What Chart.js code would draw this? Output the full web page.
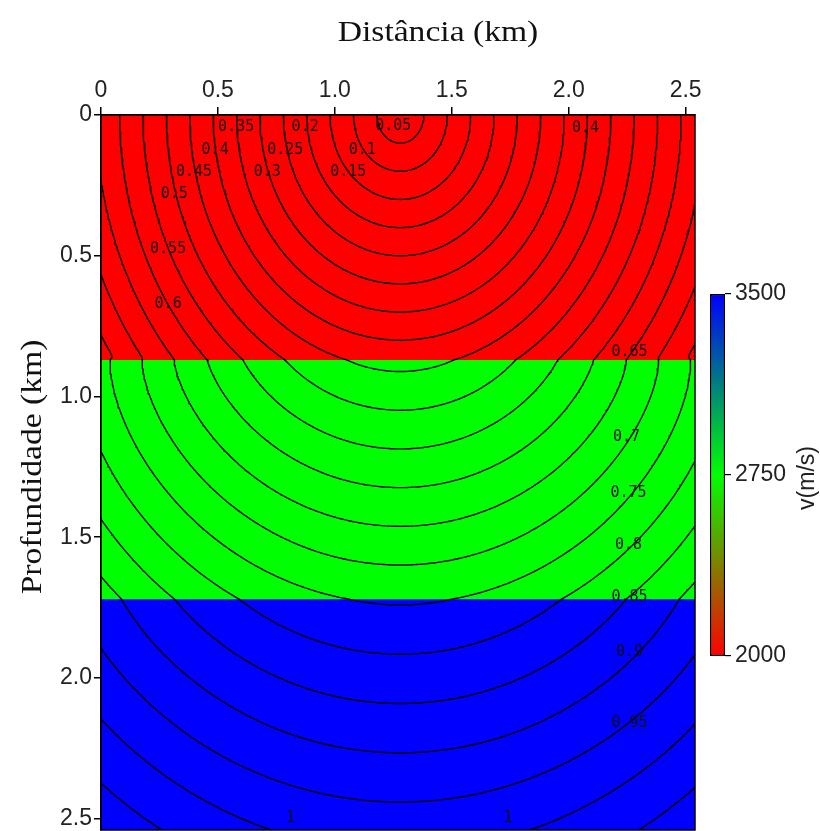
<!DOCTYPE html>
<html lang="pt">
<head>
<meta charset="utf-8">
<title>Tempos de trânsito - modelo em camadas</title>
<script src="https://cdn.jsdelivr.net/npm/chart.js@4.4.1/dist/chart.umd.min.js"></script>
<style>
  html, body { margin: 0; padding: 0; background: #fff; overflow: hidden; }
  #wrap { position: relative; width: 820px; height: 831px; }
  #mainChart { position: absolute; left: 0; top: 0; }
  #barChart { position: absolute; left: 700px; top: 270px; }
</style>
</head>
<body>
<div id="wrap">
  <canvas id="mainChart" width="820" height="831"></canvas>
  <canvas id="barChart" width="120" height="410"></canvas>
</div>
<script>
// Velocity model (km, m/s)
const layerTops = [0, 0.87, 1.72];
const layerVelocities = [2000, 2750, 3500];
const modelWidth = 2.54;
const modelDepth = 2.54;

// Point source on the surface (km)
const sourceX = 1.28;

// Traveltime contour levels (s)
const contourLevels = [
  0.05, 0.1, 0.15, 0.2, 0.25, 0.3, 0.35, 0.4, 0.45, 0.5, 0.55,
  0.6, 0.65, 0.7, 0.75, 0.8, 0.85, 0.9, 0.95, 1.0, 1.05, 1.1,
];

// Axis ticks
const xTicks = [0, 0.5, 1.0, 1.5, 2.0, 2.5];
const zTicks = [0, 0.5, 1.0, 1.5, 2.0, 2.5];
const velocityTicks = [2000, 2750, 3500];

// Contour label texts and where they sit (km)
const labelSpots = [
  ["0.05", 1.25, 0.04],
  ["0.1", 1.117, 0.124],
  ["0.15", 1.057, 0.203],
  ["0.2", 0.873, 0.043],
  ["0.25", 0.788, 0.124],
  ["0.3", 0.711, 0.203],
  ["0.35", 0.578, 0.043],
  ["0.4", 0.488, 0.124],
  ["0.45", 0.398, 0.204],
  ["0.5", 0.313, 0.281],
  ["0.55", 0.287, 0.476],
  ["0.6", 0.287, 0.672],
  ["0.4", 2.072, 0.046],
  ["0.65", 2.26, 0.842],
  ["0.7", 2.247, 1.144],
  ["0.75", 2.256, 1.343],
  ["0.8", 2.256, 1.528],
  ["0.85", 2.26, 1.713],
  ["0.9", 2.26, 1.908],
  ["0.95", 2.26, 2.161],
  ["1", 0.809, 2.498],
  ["1", 1.74, 2.498],
];

Chart.defaults.font.family = "'Liberation Sans', Arial, sans-serif";
Chart.defaults.color = "#222";

/**
 * Colour map red -> green -> blue over the velocity range
 */
function velocityColor(v) {
  const lo = velocityTicks[0];
  const hi = velocityTicks[velocityTicks.length - 1];
  const t = Math.min(1, Math.max(0, (v - lo) / (hi - lo)));
  if (t <= 0.5) {
    const s = t / 0.5;
    return `rgb(${Math.round(255 * (1 - s))}, ${Math.round(255 * s)}, 0)`;
  }
  const s = (t - 0.5) / 0.5;
  return `rgb(0, ${Math.round(255 * (1 - s))}, ${Math.round(255 * s)})`;
}

function layerBottom(i) {
  return i + 1 < layerTops.length ? layerTops[i + 1] : modelDepth;
}

function legSum(legs, p, v) {
  let X = 0;
  let T = 0;
  for (const [th, i] of legs) {
    const s = p * v[i];
    const c = Math.sqrt(1 - s * s);
    X += (th * s) / c;
    T += th / (v[i] * c);
  }
  return [X, T];
}

/**
 * First-arrival time from the source to (x, z): transmitted ray or head wave
 */
function travelTime(x, z) {
  const v = layerVelocities.map((s) => s / 1000);
  const h = Math.abs(x - sourceX);
  if (z <= 0) return h / v[0];

  let k = 0;
  while (k + 1 < layerTops.length && z > layerTops[k + 1]) k++;

  const legs = [];
  for (let i = 0; i <= k; i++) {
    legs.push([(i < k ? layerBottom(i) : z) - layerTops[i], i]);
  }

  let best;
  if (h < 1e-9) {
    best = legSum(legs, 0, v)[1];
  } else {
    let lo = 0;
    let hi = 1;
    for (let n = 0; n < 60; n++) {
      const q = (lo + hi) / 2;
      if (legSum(legs, q / v[k], v)[0] < h) lo = q;
      else hi = q;
    }
    best = legSum(legs, (lo + hi) / 2 / v[k], v)[1];
  }

  // head waves along deeper interfaces
  for (let j = k; j + 1 < layerTops.length; j++) {
    const p = 1 / v[j + 1];
    const path = [];
    for (let i = 0; i <= j; i++) path.push([layerBottom(i) - layerTops[i], i]);
    for (let i = k; i <= j; i++) {
      path.push([i === k ? layerBottom(k) - z : layerBottom(i) - layerTops[i], i]);
    }
    const [X, T] = legSum(path, p, v);
    if (X <= h) best = Math.min(best, T + (h - X) * p);
  }
  return best;
}

// Traveltime grid
const step = 0.01;
const nx = Math.round(modelWidth / step) + 1;
const nz = Math.round(modelDepth / step) + 1;
const gx = Array.from({ length: nx }, (_, i) => (i * modelWidth) / (nx - 1));
const gz = Array.from({ length: nz }, (_, j) => (j * modelDepth) / (nz - 1));
const grid = gz.map((z) => gx.map((x) => travelTime(x, z)));

/**
 * Marching squares, segments joined into polylines
 */
function isolines(level) {
  const segs = [];
  const corner = (e, i, j) =>
    [[i, j], [i + 1, j], [i + 1, j + 1], [i, j + 1]][e];
  const edgeCorners = [[0, 1], [1, 2], [3, 2], [0, 3]];

  for (let j = 0; j < nz - 1; j++) {
    for (let i = 0; i < nx - 1; i++) {
      const c = [grid[j][i], grid[j][i + 1], grid[j + 1][i + 1], grid[j + 1][i]];
      const mn = Math.min(...c);
      const mx = Math.max(...c);
      if (level < mn || level >= mx) continue;
      const above = c.map((val) => val >= level);

      const edgePoint = (e) => {
        const [ca, cb] = edgeCorners[e];
        const [ia, ja] = corner(ca, i, j);
        const [ib, jb] = corner(cb, i, j);
        const a = c[ca];
        const b = c[cb];
        const t = (level - a) / (b - a);
        return {
          key: `${ia},${ja},${ib},${jb}`,
          pt: { x: gx[ia] + t * (gx[ib] - gx[ia]), y: gz[ja] + t * (gz[jb] - gz[ja]) },
        };
      };

      const hits = [];
      for (let e = 0; e < 4; e++) {
        if (above[edgeCorners[e][0]] !== above[edgeCorners[e][1]]) hits.push(e);
      }
      const pairs = [];
      if (hits.length === 2) pairs.push([hits[0], hits[1]]);
      else if (hits.length === 4) {
        const center = (c[0] + c[1] + c[2] + c[3]) / 4;
        if ((center >= level) === above[0]) pairs.push([0, 1], [2, 3]);
        else pairs.push([3, 0], [1, 2]);
      }
      pairs.forEach(([ea, eb]) => {
        const A = edgePoint(ea);
        const B = edgePoint(eb);
        segs.push({ ka: A.key, pa: A.pt, kb: B.key, pb: B.pt });
      });
    }
  }

  const adj = new Map();
  segs.forEach((s, idx) => {
    [s.ka, s.kb].forEach((k) => {
      if (!adj.has(k)) adj.set(k, []);
      adj.get(k).push(idx);
    });
  });

  const used = new Array(segs.length).fill(false);
  const lines = [];
  const walk = (key, out, atEnd) => {
    for (;;) {
      const next = (adj.get(key) || []).find((n) => !used[n]);
      if (next === undefined) return;
      used[next] = true;
      const s = segs[next];
      const [pt, k2] = s.ka === key ? [s.pb, s.kb] : [s.pa, s.ka];
      if (atEnd) out.push(pt);
      else out.unshift(pt);
      key = k2;
    }
  };
  segs.forEach((s, idx) => {
    if (used[idx]) return;
    used[idx] = true;
    const line = [s.pa, s.pb];
    walk(s.kb, line, true);
    walk(s.ka, line, false);
    lines.push(line);
  });
  return lines;
}

const contourDatasets = [];
contourLevels.forEach((level) => {
  isolines(level).forEach((line) => {
    contourDatasets.push({
      label: `${level} s`,
      data: line,
      borderColor: "#000",
      borderWidth: 1.4,
      pointRadius: 0,
      pointHitRadius: 0,
      fill: false,
      tension: 0,
      borderJoinStyle: "round",
      order: 0,
    });
  });
});

// Layers: each band filled from its top down, deeper layers on top
const layerDatasets = layerTops.map((top, i) => ({
  label: `${layerVelocities[i]} m/s`,
  data: [
    { x: 0, y: top },
    { x: modelWidth, y: top },
  ],
  borderWidth: 0,
  pointRadius: 0,
  backgroundColor: velocityColor(layerVelocities[i]),
  fill: { value: modelDepth },
  order: 10 + layerTops.length - i,
}));

const tickLabel = (v) => (v === 0 ? "0" : Number(v).toFixed(1));

const frameAndText = {
  id: "frameAndText",
  afterDraw(chart) {
    const { ctx, chartArea: a, scales } = chart;
    ctx.save();
    ctx.strokeStyle = "#000";
    ctx.lineWidth = 1.5;
    ctx.strokeRect(a.left, a.top, a.right - a.left, a.bottom - a.top);

    ctx.font = '15px "DejaVu Sans Mono"';
    ctx.fillStyle = "#111";
    ctx.textAlign = "center";
    ctx.textBaseline = "middle";
    labelSpots.forEach(([t, lx, lz]) => {
      ctx.fillText(t, scales.x.getPixelForValue(lx), scales.y.getPixelForValue(lz));
    });

    ctx.font = '30px "Liberation Serif"';
    ctx.fillStyle = "#111";
    ctx.save();
    ctx.translate(438, 33);
    ctx.scale(1.12, 1);
    ctx.fillText("Distância (km)", 0, 0);
    ctx.restore();
    ctx.save();
    ctx.translate(33, 467);
    ctx.rotate(-Math.PI / 2);
    ctx.scale(1.12, 1);
    ctx.fillText("Profundidade (km)", 0, 0);
    ctx.restore();
    ctx.restore();
  },
};

new Chart(document.getElementById("mainChart"), {
  type: "line",
  data: { datasets: [...contourDatasets, ...layerDatasets] },
  options: {
    responsive: false,
    animation: false,
    devicePixelRatio: 1,
    layout: { padding: { left: 0, top: 0, right: 125, bottom: 1 } },
    plugins: { legend: { display: false }, tooltip: { enabled: false } },
    events: [],
    scales: {
      x: {
        type: "linear",
        position: "top",
        min: 0,
        max: modelWidth,
        afterBuildTicks: (s) => { s.ticks = xTicks.map((v) => ({ value: v })); },
        afterFit: (s) => {
          s.height = 115;
          s.paddingLeft = 0;
          s.paddingRight = 0;
        },
        ticks: { callback: tickLabel, font: { size: 23 }, color: "#222", padding: 3, maxRotation: 0, autoSkip: false },
        grid: { drawOnChartArea: false, drawTicks: true, tickLength: 8, color: "#000", lineWidth: 1.5 },
        border: { display: true, color: "#000", width: 1.5 },
      },
      y: {
        type: "linear",
        reverse: true,
        min: 0,
        max: modelDepth,
        afterBuildTicks: (s) => { s.ticks = zTicks.map((v) => ({ value: v })); },
        afterFit: (s) => {
          s.width = 101;
          s.paddingTop = 0;
          s.paddingBottom = 0;
        },
        ticks: { callback: tickLabel, font: { size: 23 }, color: "#222", padding: 2, autoSkip: false },
        grid: { drawOnChartArea: false, drawTicks: true, tickLength: 7, color: "#000", lineWidth: 1.5 },
        border: { display: true, color: "#000", width: 1.5 },
      },
    },
  },
  plugins: [frameAndText],
});

/**
 * Colour bar
 */
const barTitle = {
  id: "barTitle",
  afterDraw(chart) {
    const { ctx } = chart;
    ctx.save();
    ctx.font = '23px "Liberation Sans"';
    ctx.fillStyle = "#222";
    ctx.textAlign = "center";
    ctx.textBaseline = "middle";
    ctx.translate(108, 208);
    ctx.rotate(-Math.PI / 2);
    ctx.fillText("v(m/s)", 0, 0);
    ctx.restore();
  },
};

new Chart(document.getElementById("barChart"), {
  type: "bar",
  data: {
    labels: ["v"],
    datasets: [
      {
        data: [[velocityTicks[0], velocityTicks[velocityTicks.length - 1]]],
        backgroundColor: (c) => {
          const { ctx, chartArea } = c.chart;
          if (!chartArea) return null;
          const g = ctx.createLinearGradient(0, chartArea.bottom, 0, chartArea.top);
          const lo = velocityTicks[0];
          const hi = velocityTicks[velocityTicks.length - 1];
          velocityTicks.forEach((v) => g.addColorStop((v - lo) / (hi - lo), velocityColor(v)));
          return g;
        },
        borderColor: "#000",
        borderWidth: 1.5,
        borderSkipped: false,
        barPercentage: 1,
        categoryPercentage: 1,
      },
    ],
  },
  options: {
    responsive: false,
    animation: false,
    devicePixelRatio: 1,
    events: [],
    layout: { padding: { left: 10, top: 24, right: 0, bottom: 24 } },
    plugins: { legend: { display: false }, tooltip: { enabled: false } },
    scales: {
      x: { display: false },
      y: {
        position: "right",
        min: velocityTicks[0],
        max: velocityTicks[velocityTicks.length - 1],
        afterBuildTicks: (s) => { s.ticks = velocityTicks.map((v) => ({ value: v })); },
        afterFit: (s) => {
          s.width = 95;
          s.paddingTop = 0;
          s.paddingBottom = 0;
        },
        ticks: { callback: (v) => String(v), font: { size: 23 }, color: "#222", padding: 4, autoSkip: false },
        grid: { drawOnChartArea: false, drawTicks: true, tickLength: 6, color: "#000", lineWidth: 1.2 },
        border: { display: false },
      },
    },
  },
  plugins: [barTitle],
});
</script>
</body>
</html>
